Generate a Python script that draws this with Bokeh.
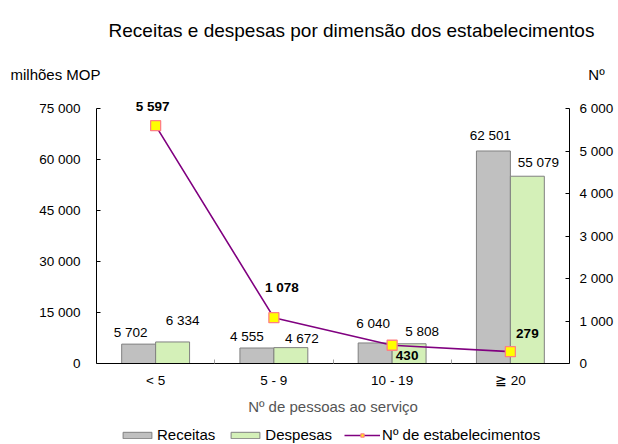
from bokeh.plotting import figure
from bokeh.models import (Range1d, LinearAxis, FixedTicker, ColumnDataSource,
                          Legend, LegendItem, Label, LabelSet)
from bokeh.embed import file_html
from bokeh.resources import INLINE
from bokeh.core.properties import value

categories = ["< 5", "5 - 9", "10 - 19", "≧ 20"]
receitas = [5702, 4555, 6040, 62501]
despesas = [6334, 4672, 5808, 55079]
estabelecimentos = [5597, 1078, 430, 279]
left_ticks = [0, 15000, 30000, 45000, 60000, 75000]
right_ticks = [0, 1000, 2000, 3000, 4000, 5000, 6000]

# label placement offsets in pixels (style only; positive dy = upwards)
rec_dx = [-8, -10, -2, -3]
rec_dy = [12, 12, 19, 15]
des_dx = [10, 11, 13, 11]
des_dy = [21, 9, 12, 14]
est_dx = [-3, 8, 15, 17]
est_dy = [19, 30, -10, 18]

FONT = "Liberation Sans"
REC_COLOR = "#C0C0C0"
DES_COLOR = "#D4F0B8"
LINE_COLOR = "#800080"

# layout in pixels
W, H = 618, 444
FRAME_LEFT, FRAME_W = 96, 473
FRAME_TOP = 90          # drawing area starts here
AXIS_TOP, AXIS_BOTTOM = 108, 363   # value axes span these rows


def fmt(v):
    return f"{v:,}".replace(",", " ")


def padded_range(vmax):
    per_px = vmax / (AXIS_BOTTOM - AXIS_TOP)
    return Range1d(-(H - AXIS_BOTTOM) * per_px, vmax + (AXIS_TOP - FRAME_TOP) * per_px)


n = len(categories)
centers = [i + 0.5 for i in range(n)]
bar_w = 0.287
rec_x = [c - bar_w / 2 for c in centers]
des_x = [c + bar_w / 2 for c in centers]

p = figure(frame_width=FRAME_W, frame_height=H - FRAME_TOP,
           min_border_left=FRAME_LEFT, min_border_right=W - FRAME_LEFT - FRAME_W,
           min_border_top=FRAME_TOP, min_border_bottom=0,
           x_range=Range1d(0, n), y_range=padded_range(left_ticks[-1]),
           output_backend="svg", toolbar_location=None)
p.extra_y_ranges = {"n": padded_range(right_ticks[-1])}
p.outline_line_color = None
p.xgrid.visible = False
p.ygrid.visible = False
p.background_fill_color = "white"
p.border_fill_color = "white"

# bars
r_rec = p.vbar(x=rec_x, top=receitas, width=bar_w, fill_color=REC_COLOR,
               line_color="#808080", line_width=1)
r_des = p.vbar(x=des_x, top=despesas, width=bar_w, fill_color=DES_COLOR,
               line_color="#808080", line_width=1)

# line
r_line = p.line(centers, estabelecimentos, y_range_name="n",
                line_color=LINE_COLOR, line_width=1.6)
r_pts = p.scatter(centers, estabelecimentos, y_range_name="n", marker="square",
                  size=10, fill_color="#FFFF00", line_color="#FF8080", line_width=1.3)

# labels
src_rec = ColumnDataSource(dict(x=rec_x, y=receitas, t=[fmt(v) for v in receitas],
                                dx=rec_dx, dy=rec_dy))
src_des = ColumnDataSource(dict(x=des_x, y=despesas, t=[fmt(v) for v in despesas],
                                dx=des_dx, dy=des_dy))
src_est = ColumnDataSource(dict(x=centers, y=estabelecimentos,
                                t=[fmt(v) for v in estabelecimentos],
                                dx=est_dx, dy=est_dy))
for src in (src_rec, src_des):
    p.add_layout(LabelSet(x="x", y="y", text="t", source=src, x_offset="dx", y_offset="dy",
                          text_align="center", text_baseline="middle",
                          text_font=value(FONT), text_font_size="13.5px",
                          text_color="#000000"))
p.add_layout(LabelSet(x="x", y="y", text="t", source=src_est, y_range_name="n",
                      x_offset="dx", y_offset="dy",
                      text_align="center", text_baseline="middle",
                      text_font=value(FONT), text_font_size="13.5px",
                      text_font_style="bold", text_color="#000000"))

# x axis drawn at value 0 inside the frame
p.xaxis.fixed_location = 0
p.xaxis.ticker = FixedTicker(ticks=centers, minor_ticks=list(range(1, n)))
p.xaxis.major_label_overrides = {c: lab for c, lab in zip(centers, categories)}
p.xaxis.major_tick_line_color = None
p.xaxis.minor_tick_in = 4
p.xaxis.minor_tick_out = 0
p.xaxis.minor_tick_line_color = "#A0A0A0"
p.xaxis.axis_line_color = "#000000"
p.xaxis.major_label_standoff = 3
p.xaxis.major_label_text_font = FONT
p.xaxis.major_label_text_font_size = "13.5px"
p.xaxis.major_label_text_color = "#000000"
p.xaxis.axis_label = "Nº de pessoas ao serviço"
p.xaxis.axis_label_text_font = FONT
p.xaxis.axis_label_text_font_size = "15px"
p.xaxis.axis_label_text_font_style = "normal"
p.xaxis.axis_label_text_color = "#555555"
p.xaxis.axis_label_standoff = 7

p.yaxis.ticker = FixedTicker(ticks=left_ticks)
p.yaxis.bounds = (left_ticks[0], left_ticks[-1])
p.yaxis.major_label_overrides = {v: fmt(v) for v in left_ticks}
p.yaxis.major_tick_in = 4
p.yaxis.major_tick_out = 0
p.yaxis.minor_tick_line_color = None
p.yaxis.major_label_standoff = 16
p.yaxis.major_label_text_font = FONT
p.yaxis.major_label_text_font_size = "13.5px"
p.yaxis.major_label_text_color = "#000000"
p.yaxis.axis_line_color = "#000000"

ry = LinearAxis(y_range_name="n", ticker=FixedTicker(ticks=right_ticks),
                bounds=(right_ticks[0], right_ticks[-1]))
ry.major_label_overrides = {v: fmt(v) for v in right_ticks}
ry.major_tick_in = 4
ry.major_tick_out = 0
ry.minor_tick_line_color = None
ry.major_label_standoff = 10
ry.major_label_text_font = FONT
ry.major_label_text_font_size = "13.5px"
ry.major_label_text_color = "#000000"
ry.axis_line_color = "#000000"
p.add_layout(ry, "right")

# texts of the top panel (screen units relative to their row in the panel)
p.add_layout(Label(x=-86, y=16, x_units="screen", y_units="screen", text="milhões MOP",
                   text_align="left", text_baseline="middle",
                   text_font=FONT, text_font_size="15px", text_color="#000000"), "above")
p.add_layout(Label(x=500, y=-1, x_units="screen", y_units="screen", text="Nº",
                   text_align="center", text_baseline="middle",
                   text_font=FONT, text_font_size="15px", text_color="#000000"), "above")
p.add_layout(Label(x=255, y=26, x_units="screen", y_units="screen",
                   text="Receitas e despesas por dimensão dos estabelecimentos",
                   text_align="center", text_baseline="middle",
                   text_font=FONT, text_font_size="19px", text_color="#000000"), "above")

legend = Legend(items=[
    LegendItem(label="Receitas", renderers=[r_rec]),
    LegendItem(label="Despesas", renderers=[r_des]),
    LegendItem(label="Nº de estabelecimentos", renderers=[r_line, r_pts]),
], orientation="horizontal", location=(23, 1),
    glyph_width=36, glyph_height=8, label_height=16, label_standoff=2, spacing=12,
    padding=0, margin=0, border_line_color=None, background_fill_alpha=0,
    label_text_font=FONT, label_text_font_size="15px", label_text_color="#000000")
p.add_layout(legend, "center")

open("out.html", "w").write(file_html(p, INLINE))
